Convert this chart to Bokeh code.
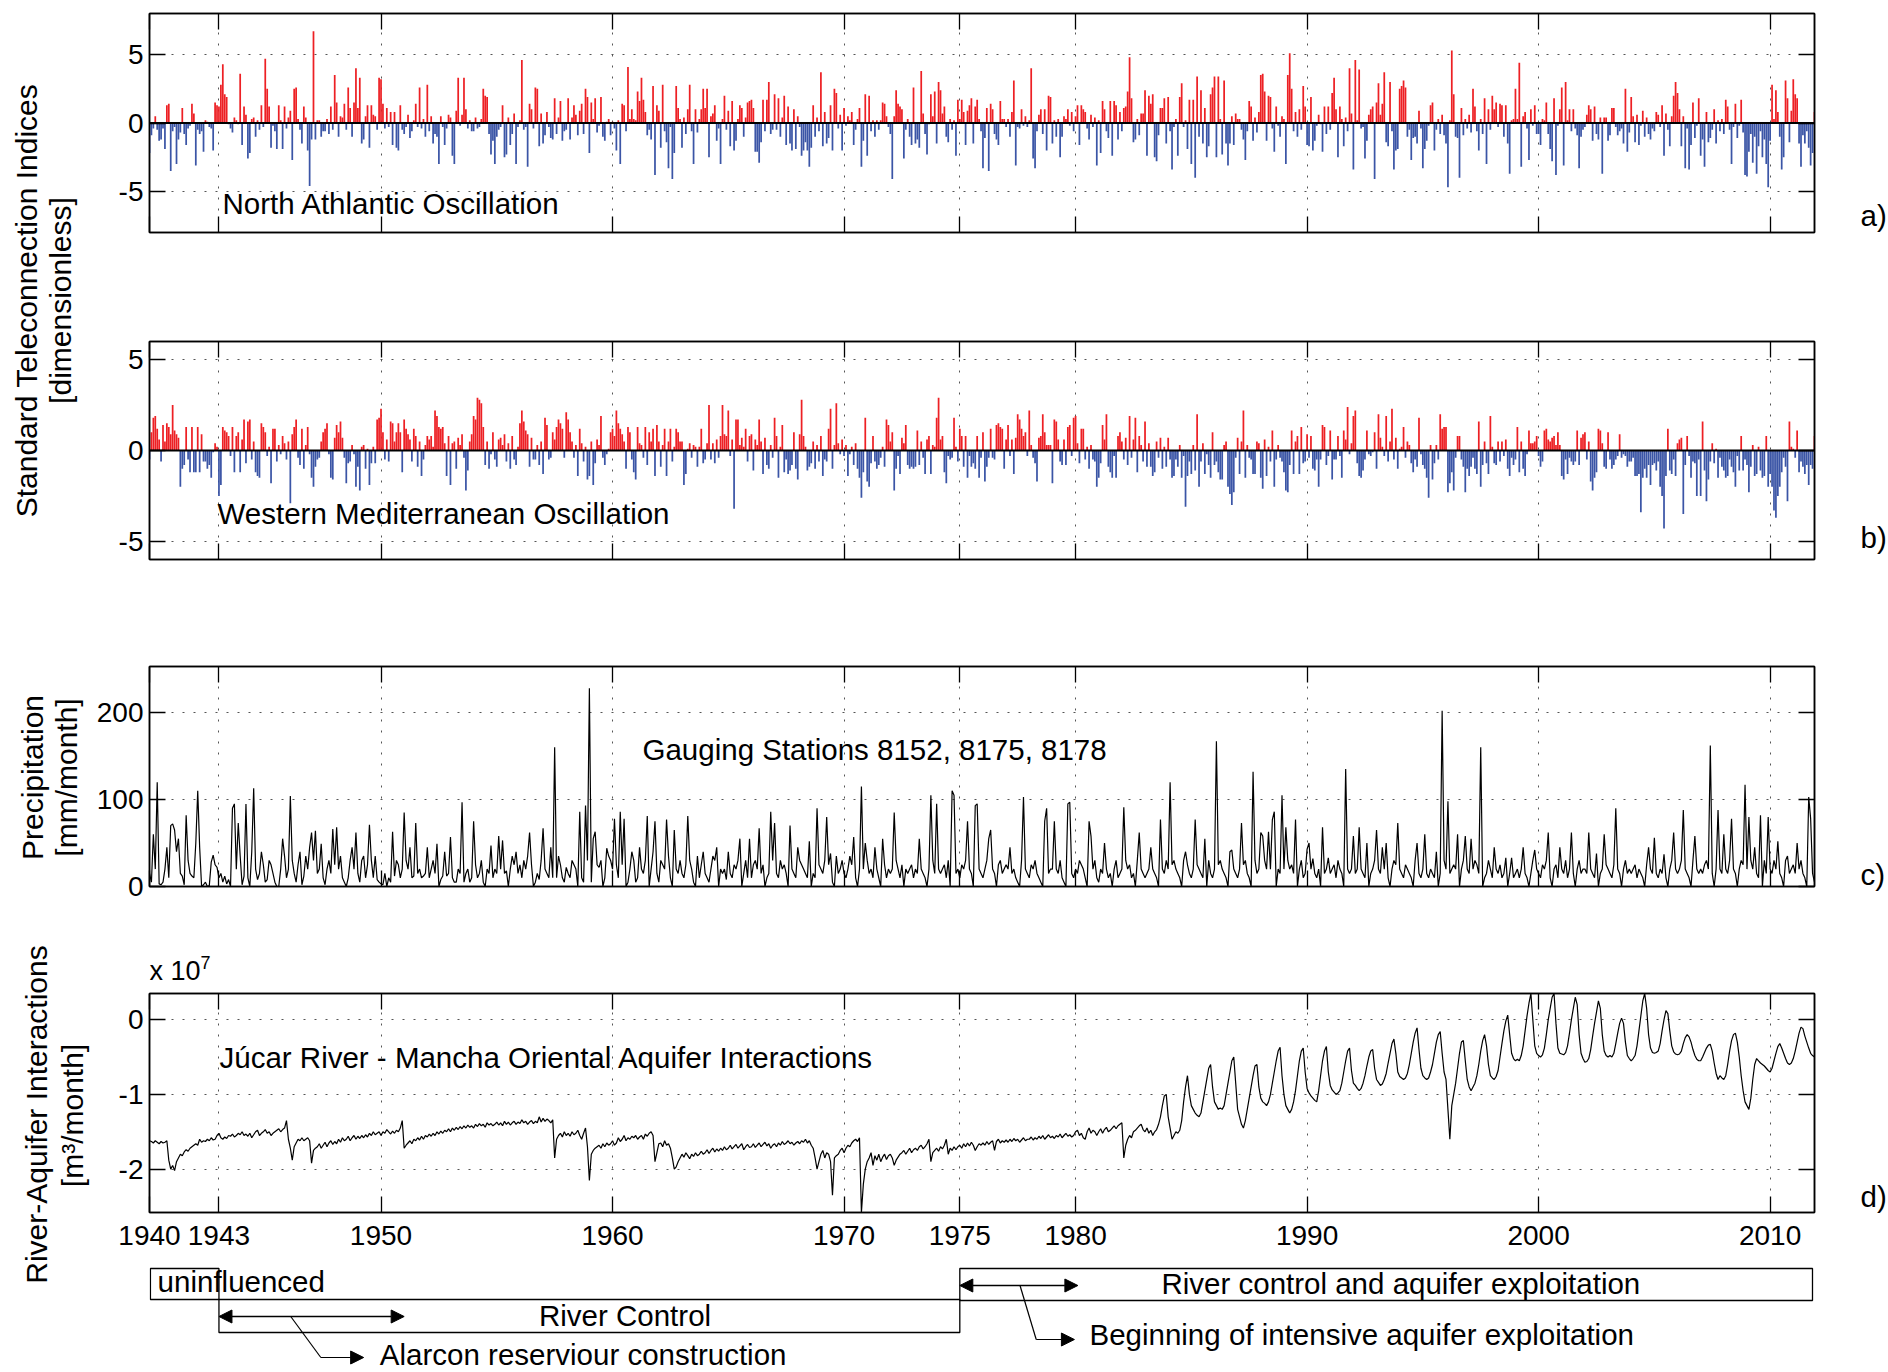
import math
import numpy as np
from bokeh.plotting import figure
from bokeh.models import (Range1d, LinearAxis, FixedTicker, Span, Label, Arrow,
                          NormalHead, ColumnDataSource, CustomJSTickFormatter)
from bokeh.layouts import row, column
from bokeh.embed import file_html
from bokeh.resources import INLINE
from bokeh.core.properties import value

FONT = "Liberation Sans"
RED = "#ED2024"
BLUE = "#3B55A6"

# ---------------- data (monthly, Jan 1940 .. Dec 2011), one row per year ----------------
nao_rows = [
    [-2.2, -0.9, -0.4, 0.5, -0.5, -1.3, -1.2, -0.4, -1.9, 1.3, 1.4, -3.5],
    [-0.6, -0.3, -3.0, -1.2, -0.7, 1.1, -0.8, -1.6, -0.4, -0.2, 1.4, 0.7],
    [-3.1, -0.5, -0.8, -0.6, -2.1, 0.2, 0.1, -0.3, -0.4, -2.0, 1.5, 1.3],
    [1.2, 2.8, 4.3, 2.1, 1.9, -0.1, -0.4, -0.7, 0.4, 0.2, -0.1, 3.6],
    [-1.6, 1.2, 0.6, -2.6, -2.2, 0.3, 0.4, -1.0, 0.2, -0.5, 1.3, -0.3],
    [4.7, 2.5, 1.2, -1.8, -0.2, -0.6, -1.9, 1.3, 0.2, -1.9, 1.2, -0.4],
    [0.4, 0.9, -2.7, 2.5, 2.6, 0.3, -0.5, -1.5, 1.2, 0.4, -2.0, -4.6],
    [-1.2, 6.7, -1.2, 0.2, 0.2, -1.0, -0.6, -0.6, 0.3, -0.8, 1.2, -0.5],
    [3.5, 1.5, -1.0, 0.5, 0.4, 1.4, -0.5, 2.6, 1.1, -1.0, 1.5, 4.0],
    [1.1, 3.3, -1.5, -1.2, 0.5, 1.3, -1.8, 1.3, 0.6, 0.5, -0.5, 3.3],
    [3.2, 1.4, -0.4, 1.1, -0.3, 0.8, -1.6, 0.8, -1.8, -2.0, 1.3, -0.5],
    [-0.8, -0.3, 0.6, -1.1, -0.6, 0.2, 1.4, -0.3, 2.6, -0.4, 0.3, -1.0],
    [2.8, -0.6, 0.5, -1.5, -0.8, -1.0, -3.0, 0.5, -0.3, -1.6, -0.4, 0.6],
    [0.4, -2.4, -3.0, 0.9, 3.3, -0.2, 0.6, 3.3, 1.0, -0.4, 0.2, -0.6],
    [-0.6, 0.4, -0.4, -0.3, 0.3, 2.5, 2.0, 1.9, -0.8, -2.3, -1.3, -3.0],
    [-1.0, -0.5, -0.3, 1.3, -2.5, -2.3, 0.4, -1.6, -0.8, 0.7, -3.0, -0.3],
    [0.2, 4.6, -0.5, -0.3, -3.2, 1.4, 1.0, -0.4, 2.6, 2.5, -1.7, 0.7],
    [-1.5, -0.9, 0.8, -0.3, -1.1, -1.2, 1.8, -0.8, 0.4, 1.6, -1.3, -0.6],
    [-0.5, 1.8, -1.2, 0.4, 1.3, 0.6, -0.9, 0.9, 1.4, -0.8, 2.5, 1.9],
    [-2.2, 1.5, 0.3, 1.8, -0.7, -0.2, 1.9, -1.0, -1.3, 0.1, 0.3, -0.9],
    [0.1, -0.4, -2.0, 0.2, -3.0, 1.4, 1.3, -0.6, 4.1, 0.3, 1.0, 0.3],
    [0.2, 2.3, 1.6, 3.3, 1.7, 0.8, -0.9, -0.5, -1.2, 2.7, -3.8, 1.3],
    [0.9, -1.8, 2.8, -0.6, -1.4, -3.3, -0.3, -4.1, -2.2, 2.7, 1.1, 0.3],
    [-1.8, 0.4, -0.8, 1.0, 2.8, -0.6, -3.0, 1.0, -0.7, 0.3, 1.0, 2.5],
    [1.1, 2.5, -2.5, 0.5, 0.7, 1.3, -1.3, -0.4, -3.0, 0.3, 2.0, -0.5],
    [0.9, -1.7, 1.6, -2.0, -1.3, 0.3, 1.3, 1.1, -1.0, 0.4, 1.5, 1.6],
    [1.7, 1.1, -2.1, -2.1, -2.9, -1.4, 1.7, -0.6, 1.7, 3.0, -0.8, -0.5],
    [2.1, -0.5, 1.8, -1.0, 0.4, 2.0, -1.6, 1.2, -1.5, -2.0, 1.0, -1.9],
    [0.5, -0.3, -2.4, -2.0, -1.4, -2.0, -3.2, -1.8, 1.3, -1.0, 0.4, -0.6],
    [3.7, -1.7, 0.8, -1.5, -1.1, 1.3, -2.0, 2.5, 2.2, -0.4, 0.6, -2.0],
    [1.1, -0.2, 0.5, 0.2, 0.8, -1.6, -0.5, 0.3, 1.1, -3.2, -1.3, 2.1],
    [-2.4, 2.0, -0.6, 0.2, -1.0, 0.2, -0.5, 0.2, 1.5, 1.4, 0.5, -0.3],
    [-0.8, -4.1, 0.5, 2.4, 1.4, 1.2, 1.0, -2.6, -0.5, 0.3, -1.0, -1.6],
    [2.6, -1.5, -1.2, -1.8, 3.8, 0.7, -0.8, -2.3, -0.1, 2.1, 0.5, 2.3],
    [-1.5, 3.0, 2.4, 0.7, 1.2, -1.0, -1.4, 0.3, -0.5, 0.2, -2.4, 1.7],
    [0.3, 1.7, 0.8, -1.6, 0.9, 1.3, 1.8, -1.5, 1.2, 1.7, 0.3, -0.6],
    [-3.3, -1.1, 1.1, -3.5, 1.4, 1.0, -0.8, -1.2, -1.6, 1.6, 0.3, 0.3],
    [-0.3, 0.3, -1.0, 0.8, 3.1, -3.1, -0.3, -0.4, 1.0, -0.2, 0.5, -0.3],
    [0.2, 4.0, -2.6, -3.3, -0.6, 0.6, 1.0, -0.8, 1.0, -2.0, 2.0, 1.9],
    [-1.5, 0.2, -1.0, 0.3, -2.5, -1.0, 0.5, 0.3, 1.0, -0.2, 0.8, -0.6],
    [0.5, 1.3, -1.6, 1.3, 1.0, 0.8, -0.4, -1.2, 0.6, -0.3, 0.4, -3.1],
    [0.2, -2.2, 1.6, 1.0, -0.6, -1.1, 1.6, -2.4, 1.6, 1.3, -1.2, 0.8],
    [-0.6, 1.1, 1.2, 2.3, 4.8, 1.8, -1.4, -1.2, 0.3, -0.9, 0.7, 0.7],
    [2.4, -2.4, 2.0, 1.4, 2.1, -2.5, -2.8, -0.9, 1.1, 1.1, 1.8, -1.5],
    [1.9, -0.6, -3.4, -0.3, 0.3, -2.4, 1.9, 2.9, -0.3, 0.2, -1.9, 1.7],
    [-3.0, 1.7, -4.0, 3.4, -1.0, 2.4, -1.5, 1.1, -2.5, -1.7, 2.1, 2.6],
    [3.4, -2.5, 3.4, 0.3, -2.3, 3.1, -1.5, -3.1, -1.5, 0.5, -1.6, 0.7],
    [0.3, 0.3, -0.5, -1.2, -2.7, -0.6, 1.6, 1.2, -1.3, 0.4, -0.7, 0.8],
    [3.5, 3.6, 2.3, -1.3, 2.0, 1.9, -0.4, -2.1, 1.2, -0.2, -1.0, 0.5],
    [0.3, -3.0, 3.5, 5.1, 2.5, -0.6, 0.8, -1.0, 1.0, -0.5, 2.7, 1.2],
    [-1.6, -1.7, 1.9, -2.0, -1.3, -0.2, 0.6, -0.1, -2.1, 1.2, -0.8, 1.2],
    [-0.5, 2.2, 3.3, 1.0, -2.5, 1.2, 0.3, -1.7, 0.4, -0.6, 4.0, 0.7],
    [-3.4, 4.6, 0.2, 3.9, -0.4, -0.3, -2.6, -1.3, 0.6, 1.0, 1.2, -4.1],
    [1.5, 2.9, 0.6, 1.4, 3.7, -1.4, -1.7, 3.0, -0.6, -3.4, -2.0, -1.9],
    [2.5, 2.7, 3.1, 2.6, -1.0, -0.5, -2.7, -1.1, -1.0, -1.5, 0.9, -0.4],
    [-3.3, -1.9, -1.3, -0.2, 1.3, 1.5, -2.0, -0.5, 0.3, -0.8, 0.6, -0.9],
    [-1.5, -4.7, 0.2, 5.3, 2.1, -1.0, -1.1, -4.0, 1.1, -0.9, 0.3, -0.4],
    [0.6, -0.7, 2.5, 1.2, -0.6, -2.0, 0.3, -0.8, 1.8, -3.0, 1.0, -0.5],
    [2.0, 1.0, 1.5, -0.3, 1.4, 1.3, -1.0, 1.3, -1.5, -3.7, 0.2, 0.3],
    [2.5, 0.3, 4.4, -3.2, 0.5, 0.8, -0.4, -2.7, 1.0, -0.2, 1.3, -0.8],
    [-0.8, -1.6, 0.3, 0.2, 1.5, -0.8, -1.9, -2.8, 1.8, -3.8, -0.2, 1.0],
    [2.6, -3.1, 3.0, 0.2, 1.0, -0.6, 1.0, -0.4, -0.9, -3.3, -1.0, -0.5],
    [-0.3, 0.6, 1.3, 1.0, -1.3, 1.2, -0.8, -1.2, 0.4, -3.7, 0.4, 0.4],
    [-1.3, -0.9, 1.1, 1.1, -0.3, -0.9, -0.6, -0.4, -1.5, 2.5, -2.1, -0.7],
    [1.9, 0.5, -1.4, 0.6, -1.6, -0.2, 0.9, -1.0, 0.4, -0.8, -1.2, -0.4],
    [-0.6, 0.8, 0.6, -0.3, 1.3, -2.4, 0.7, -0.5, -1.7, 0.5, 2.0, 3.0],
    [2.2, 1.0, -1.7, 0.5, -3.3, -0.4, -3.4, -1.6, 1.5, -1.1, -0.2, 1.8],
    [-2.4, -1.2, -3.2, 0.8, -1.4, -1.1, -0.5, 1.0, -1.5, 0.2, -0.6, 0.3],
    [-0.8, 1.7, 1.2, -0.5, -3.0, -0.3, 1.4, -1.1, -0.2, 1.7, -0.7, -3.8],
    [-3.9, -2.1, -0.8, -2.9, -1.0, -3.7, -1.7, -0.6, -2.5, -1.2, -3.0, -4.7],
    [-1.3, 2.8, 0.3, 2.4, 0.8, -1.0, -3.4, -2.5, 3.1, 1.8, -1.4, 0.9],
    [3.2, 2.1, 1.8, -1.5, -3.2, -0.9, -1.5, -0.6, -1.8, -3.1, -2.2, 0.8],
]

wemo_rows = [
    [-0.5, 1.0, 1.8, 1.9, 1.2, 0.6, -0.6, 1.4, 0.5, 1.5, 1.3, 0.9],
    [2.5, 1.1, 0.9, 0.7, -2.0, -1.0, -0.8, 1.3, -0.5, -1.2, 1.3, -1.2],
    [-1.2, 1.3, -1.2, 0.9, -0.6, -0.6, -1.0, -0.8, -1.5, -0.1, 0.4, 0.2],
    [-2.5, -1.9, 1.3, 1.1, 1.0, 0.8, -0.3, 1.3, -1.2, 0.8, 1.0, -1.2],
    [0.6, 1.7, -0.7, 1.6, 1.7, -0.5, 0.5, -1.2, -1.4, -1.5, 1.5, 1.3],
    [1.0, -0.3, 0.2, -1.8, 1.2, 1.2, -0.6, 0.3, -0.2, 0.8, 0.4, -0.5],
    [0.5, -2.9, 0.9, 1.3, 1.7, -0.4, -0.8, 1.2, -1.0, 0.3, 1.3, -0.2],
    [-1.5, -2.0, -0.9, -0.5, -0.4, 0.5, 1.0, 1.2, 1.5, -0.2, -1.5, -1.6],
    [0.7, 1.4, 1.0, 1.6, 0.7, -0.4, -1.8, -0.7, -0.6, 0.3, -0.2, -2.0],
    [-0.9, -2.2, 0.2, 0.3, -1.0, 0.1, -1.9, -0.7, 0.2, -0.7, 1.7, 1.8],
    [2.3, 1.0, -0.5, 0.6, -0.6, 1.6, 1.5, 0.5, 1.0, 1.5, 1.0, -1.2],
    [1.7, 1.2, 0.9, 0.6, -0.6, 1.2, 0.8, -0.9, 0.5, -1.4, -0.5, 0.3],
    [0.8, 0.6, 0.8, 0.2, 2.2, 1.9, 1.3, 1.2, 1.3, 0.4, -1.4, 0.8],
    [-1.9, 0.4, 0.5, -1.0, 0.7, 0.3, 0.9, -0.4, -2.2, -1.1, 0.5, 0.9],
    [1.9, 1.7, 2.9, 2.8, 2.6, 1.3, -0.8, 0.5, -1.0, -0.2, 1.0, -0.5],
    [-0.9, 0.6, 0.7, 0.3, 0.9, -0.6, 0.4, -1.0, 0.8, -0.5, -0.8, 0.2],
    [1.5, 2.2, 1.6, 1.1, 0.9, -0.9, 0.7, -0.5, -0.5, 0.3, -0.8, 0.5],
    [-1.3, 1.8, 1.4, -0.5, -0.4, 1.0, 0.6, 1.3, 1.7, 1.5, 1.2, -0.4],
    [2.1, 1.7, 1.0, 0.5, -0.4, 0.3, -1.4, 1.2, 0.4, -0.6, 0.2, -1.6],
    [-1.4, 0.5, -1.9, -0.7, 0.6, 0.3, 1.9, -0.4, -0.8, -0.2, 0.1, 1.0],
    [1.2, 0.8, 2.2, 1.5, 1.2, 0.9, 0.5, -1.0, 1.3, 1.0, -0.5, -1.2],
    [-1.6, 1.3, 0.4, 0.3, -0.4, 1.3, -0.8, 1.0, 0.5, 1.2, -1.4, 1.4],
    [0.5, -0.9, 0.3, 1.2, -1.4, 0.5, 1.2, -0.6, 0.2, 1.2, 1.0, 0.5],
    [0.5, -1.9, -1.3, 0.1, 0.4, -0.4, 0.3, 0.2, -0.9, 0.2, 1.2, -0.7],
    [-0.5, 0.4, 2.5, -0.5, 0.4, -0.7, 0.6, -0.4, 0.8, 2.5, 0.9, 0.8],
    [2.2, -0.3, 0.6, -3.2, 1.7, 1.7, 0.3, 0.7, 0.2, 1.2, -0.6, 0.8],
    [0.9, -1.1, 0.6, 0.3, 1.7, 0.5, -1.3, 0.7, -0.8, -1.0, 0.3, -0.4],
    [1.8, 0.8, -1.5, 0.2, 1.4, -1.2, -0.5, -1.3, -1.1, -0.8, 1.0, -1.0],
    [-1.6, 0.9, 2.8, 0.8, 0.2, -1.1, -0.9, -0.7, 0.5, -1.0, 0.3, -0.6],
    [0.8, -1.4, -0.5, -0.6, 1.2, 2.3, -1.0, 0.3, 2.6, 0.4, -0.2, 0.6],
    [-0.3, 0.3, -1.4, -0.2, 0.2, -0.8, 0.4, -1.0, -1.5, -2.6, -1.2, 1.8],
    [-1.7, -2.0, -0.7, 0.8, -0.6, -1.0, -0.8, -0.4, 0.2, -0.9, 1.7, 1.4],
    [0.5, 1.0, -2.2, -1.0, -0.3, -1.3, 0.7, 0.4, 1.4, -0.8, -1.0, -0.9],
    [-1.0, -0.9, 1.1, -0.8, 0.5, -0.4, -1.3, 0.6, 0.8, -1.3, 0.3, 0.2],
    [1.8, 2.9, 0.6, 0.8, -1.2, -1.8, -0.3, -0.5, -0.4, 1.8, 0.2, -0.6],
    [1.2, 0.8, -0.9, 0.8, -1.5, -0.3, -0.9, -0.7, -1.0, 0.8, -1.5, -0.4],
    [1.0, -1.7, -0.9, -0.4, 1.2, -0.4, -0.5, 1.4, 1.5, 1.3, 1.2, -1.0],
    [0.6, 1.4, -0.3, 0.6, -1.3, 0.7, 2.0, 1.7, 1.2, 0.8, 1.0, -0.3],
    [2.2, 0.3, -0.4, -0.7, -1.7, 0.7, 0.8, 2.0, 1.0, 0.3, 0.3, 0.3],
    [-1.8, 1.7, 1.6, 0.6, -0.6, -0.8, 0.6, -0.8, 1.3, 1.4, -0.3, 1.8],
    [1.9, 0.4, -0.7, 1.2, 1.2, -0.5, 0.2, -1.0, 0.3, -0.5, -0.6, -2.0],
    [-1.5, -0.7, 1.4, 0.6, 2.0, -0.9, -1.2, -1.5, -0.3, -1.5, 0.8, 1.0],
    [0.5, -0.5, 0.7, -0.8, 1.9, -0.4, 0.6, 1.8, -1.2, 0.8, 0.3, -0.6],
    [1.6, -0.9, 0.4, -0.9, -1.4, -1.2, 0.5, -0.4, 0.7, -1.0, 0.2, -0.9],
    [0.7, -0.5, -1.5, -1.4, -0.5, -0.9, 0.3, -1.5, -0.3, -3.1, -1.4, -0.6],
    [-1.3, 0.3, -1.1, 2.0, -2.0, -0.6, 0.4, -1.3, -0.2, -0.8, -1.5, 1.0],
    [-0.8, -0.6, -1.2, -1.6, -1.6, 0.3, 0.5, -2.0, -2.4, -3.0, -2.3, -0.4],
    [0.7, -1.3, 0.5, 2.2, -1.5, 0.3, -0.4, -0.5, -1.3, -1.3, 0.5, 0.4],
    [-1.5, -2.1, 0.6, -1.4, 0.2, -0.6, 1.1, -2.0, -0.5, 0.3, -0.4, -0.6],
    [-1.2, -2.2, -2.3, -0.8, 1.1, -1.3, 0.5, 0.8, -1.3, 1.3, -0.7, -0.6],
    [0.9, -0.4, 0.8, -1.0, -1.1, -0.5, -2.0, -0.5, 1.4, 1.3, -0.8, -0.3],
    [1.1, -1.6, -0.5, -0.5, 0.8, -0.3, -1.5, 1.1, 0.6, 2.4, -0.2, 0.4],
    [1.9, 2.2, -0.7, -1.4, -1.5, -1.1, -0.5, 1.1, -0.2, -0.3, -0.1, 1.0],
    [-1.0, 2.0, 0.7, 0.2, -0.3, 1.9, -0.6, 0.5, 2.3, -0.5, 0.7, -1.0],
    [0.1, 0.2, 1.3, -0.4, 0.5, 0.3, -0.7, -1.2, -0.5, -0.9, 1.8, -0.2],
    [-0.8, -1.0, -1.5, -2.6, 0.3, -1.6, -0.7, 0.3, -0.5, 2.0, 1.2, 1.3],
    [1.3, -2.3, -1.8, -1.2, -2.2, -0.4, 0.8, 0.8, -0.5, -0.9, -2.3, -1.0],
    [-1.4, -0.9, -0.4, -1.0, -1.3, 1.6, -2.0, -0.8, 0.5, -0.7, -1.3, 1.9],
    [0.2, -0.7, -0.8, 0.5, -0.6, 0.5, -0.3, 0.6, -1.0, -1.4, -0.4, -0.8],
    [-0.5, 1.3, -1.2, 0.5, -1.0, -1.4, -0.2, 1.1, 0.4, 0.4, 0.5, 0.8],
    [-0.3, -0.9, -0.6, 1.1, 1.2, 0.6, 0.5, 0.7, 0.8, 0.3, 1.0, 0.3],
    [-1.4, -1.6, -0.5, -1.3, -0.4, -0.6, -0.8, -0.6, 1.1, -0.8, 0.7, 0.9],
    [1.0, -0.5, 0.5, -1.7, -2.2, -1.5, -1.2, 1.2, 1.1, 0.4, -0.9, -1.0],
    [1.0, -0.5, -1.0, -0.8, -0.5, -0.3, 0.9, -0.4, -0.2, -0.3, -0.9, -0.6],
    [-0.6, -0.4, -1.4, -1.4, -1.3, -3.4, -1.5, -1.0, -1.5, -0.8, -1.9, -0.8],
    [-0.7, -1.1, -0.6, -2.0, -2.5, -4.3, -1.4, 1.2, -1.1, -1.3, -0.5, -1.4],
    [0.4, 0.6, 0.7, -3.5, -0.8, 0.8, -0.3, -1.5, -0.6, -0.7, -2.5, -0.5],
    [-2.5, 1.6, -1.1, -2.8, -1.6, -0.6, 0.4, -0.7, 0.1, -1.5, -0.4, -0.9],
    [-1.1, -1.5, -1.4, -0.5, -0.9, -1.2, -2.0, -0.3, -1.1, 0.8, -1.1, -0.5],
    [-0.8, -2.3, -0.9, 0.3, -1.4, -1.3, 0.2, -1.1, -1.5, -1.4, 0.8, -2.0],
    [-1.3, -2.0, -3.3, -3.7, -2.5, -2.0, -1.2, -0.4, -0.9, -2.8, 1.6, 0.2],
    [0.1, -0.4, 1.1, -1.2, -0.6, -0.9, -1.3, -0.8, -1.9, -0.8, -1.0, 0.8],
]

precip_rows = [
    [15, 5, 60, 20, 120, 3, 2, 5, 20, 45, 10, 70],
    [72, 65, 40, 55, 15, 12, 2, 82, 30, 15, 12, 10],
    [50, 110, 45, 0, 2, 5, 0, 1, 28, 36, 25, 22],
    [10, 15, 5, 12, 3, 8, 0, 90, 95, 20, 73, 35],
    [2, 12, 95, 10, 0, 40, 113, 20, 8, 15, 40, 25],
    [5, 8, 30, 25, 15, 5, 0, 0, 20, 55, 35, 10],
    [20, 104, 30, 15, 5, 25, 40, 2, 12, 35, 20, 45],
    [62, 30, 64, 15, 20, 49, 10, 2, 20, 30, 15, 66],
    [25, 68, 20, 35, 10, 5, 0, 10, 30, 45, 20, 62],
    [15, 5, 30, 35, 10, 25, 71, 30, 10, 35, 8, 5],
    [3, 2, 15, 0, 10, 5, 63, 12, 30, 25, 10, 20],
    [85, 30, 20, 45, 10, 12, 73, 15, 20, 10, 12, 15],
    [45, 10, 20, 30, 15, 49, 0, 8, 12, 40, 12, 15],
    [57, 10, 5, 5, 20, 15, 97, 5, 15, 20, 5, 10],
    [75, 25, 10, 15, 30, 5, 0, 20, 15, 47, 10, 20],
    [15, 58, 20, 53, 15, 18, 0, 20, 35, 25, 40, 15],
    [25, 10, 30, 20, 35, 62, 25, 0, 5, 15, 8, 30],
    [67, 20, 15, 10, 45, 10, 160, 10, 35, 25, 10, 5],
    [22, 15, 10, 30, 25, 20, 0, 86, 10, 5, 93, 30],
    [228, 5, 55, 63, 25, 22, 30, 0, 10, 44, 35, 30],
    [20, 78, 25, 10, 86, 25, 78, 0, 5, 20, 40, 30],
    [5, 10, 45, 20, 15, 30, 81, 0, 20, 40, 75, 15],
    [5, 30, 25, 20, 77, 35, 10, 0, 65, 20, 15, 30],
    [15, 10, 25, 81, 30, 20, 5, 0, 35, 10, 25, 40],
    [15, 10, 5, 20, 35, 30, 45, 0, 20, 15, 20, 8],
    [40, 15, 10, 25, 20, 30, 55, 0, 15, 30, 10, 55],
    [10, 25, 30, 20, 67, 15, 25, 0, 10, 15, 86, 30],
    [73, 15, 10, 30, 20, 25, 15, 0, 70, 20, 15, 10],
    [45, 30, 25, 20, 15, 10, 52, 0, 15, 10, 90, 25],
    [20, 15, 30, 80, 25, 38, 5, 0, 35, 15, 20, 30],
    [15, 10, 20, 35, 25, 57, 10, 0, 20, 115, 20, 50],
    [30, 15, 20, 10, 45, 20, 10, 0, 55, 25, 10, 20],
    [15, 20, 85, 30, 20, 10, 25, 0, 20, 15, 20, 25],
    [10, 20, 15, 55, 20, 15, 10, 0, 20, 105, 30, 15],
    [95, 20, 15, 20, 25, 10, 30, 0, 110, 105, 15, 20],
    [10, 25, 20, 30, 75, 20, 15, 0, 93, 95, 20, 15],
    [10, 20, 30, 55, 65, 20, 15, 0, 25, 30, 15, 20],
    [25, 20, 45, 15, 20, 10, 5, 0, 30, 103, 20, 15],
    [10, 25, 20, 30, 15, 10, 5, 0, 75, 90, 15, 20],
    [20, 75, 20, 15, 30, 10, 5, 0, 95, 97, 15, 10],
    [20, 15, 30, 25, 20, 10, 0, 75, 58, 20, 30, 10],
    [5, 20, 15, 50, 20, 10, 15, 0, 20, 30, 10, 15],
    [20, 91, 30, 20, 25, 10, 15, 0, 30, 62, 20, 15],
    [10, 15, 20, 45, 20, 15, 10, 0, 77, 20, 15, 30],
    [20, 120, 25, 30, 20, 15, 10, 0, 30, 40, 25, 15],
    [10, 20, 77, 25, 20, 15, 10, 55, 0, 30, 15, 10],
    [20, 167, 25, 30, 20, 15, 10, 0, 40, 42, 20, 15],
    [10, 20, 73, 25, 30, 15, 10, 0, 132, 30, 15, 20],
    [62, 58, 30, 20, 63, 20, 77, 86, 0, 20, 15, 105],
    [20, 68, 30, 20, 25, 15, 77, 0, 20, 30, 10, 15],
    [43, 50, 20, 32, 15, 10, 20, 0, 68, 15, 20, 33],
    [15, 20, 25, 10, 30, 20, 15, 0, 135, 20, 15, 20],
    [58, 15, 20, 68, 20, 15, 10, 50, 0, 15, 20, 30],
    [65, 20, 15, 45, 20, 50, 10, 0, 20, 30, 25, 73],
    [20, 15, 10, 25, 20, 15, 10, 0, 30, 50, 15, 10],
    [20, 60, 15, 10, 20, 15, 10, 40, 0, 15, 202, 30],
    [20, 98, 15, 20, 25, 20, 60, 0, 20, 30, 58, 20],
    [15, 55, 20, 30, 25, 15, 160, 0, 10, 15, 30, 20],
    [10, 45, 20, 15, 25, 10, 15, 33, 0, 15, 33, 10],
    [15, 20, 10, 20, 45, 15, 10, 0, 15, 30, 42, 20],
    [15, 10, 25, 20, 30, 62, 10, 0, 20, 25, 10, 45],
    [20, 15, 30, 10, 20, 62, 15, 0, 20, 30, 15, 20],
    [20, 15, 62, 20, 15, 10, 38, 0, 15, 20, 60, 25],
    [20, 15, 10, 25, 90, 20, 15, 0, 20, 30, 15, 20],
    [15, 20, 25, 10, 20, 15, 10, 0, 25, 45, 20, 15],
    [56, 15, 10, 20, 15, 37, 10, 0, 20, 30, 62, 20],
    [15, 20, 30, 88, 20, 15, 10, 0, 30, 58, 20, 15],
    [20, 15, 25, 30, 20, 162, 15, 0, 20, 88, 20, 15],
    [60, 20, 15, 30, 78, 20, 15, 0, 20, 30, 25, 117],
    [20, 80, 30, 20, 45, 15, 10, 82, 0, 30, 15, 80],
    [20, 15, 30, 20, 52, 15, 10, 0, 30, 35, 15, 20],
    [25, 15, 50, 20, 30, 15, 10, 0, 103, 78, 15, 5],
]

# river-aquifer interaction, in units of 1e7 m3/month
river_rows = [
    [-1.62, -1.63, -1.65, -1.62, -1.64, -1.66, -1.63, -1.65, -1.64, -1.62, -1.88, -2.0],
    [-1.95, -2.02, -1.9, -1.85, -1.8, -1.82, -1.77, -1.74, -1.76, -1.72, -1.7, -1.68],
    [-1.66, -1.68, -1.6, -1.64, -1.62, -1.63, -1.6, -1.62, -1.58, -1.61, -1.6, -1.55],
    [-1.52, -1.58, -1.6, -1.57, -1.59, -1.55, -1.56, -1.53, -1.57, -1.55, -1.52, -1.54],
    [-1.5, -1.55, -1.53, -1.56, -1.52, -1.58, -1.54, -1.5, -1.48, -1.55, -1.52, -1.5],
    [-1.47, -1.52, -1.5, -1.55, -1.52, -1.5, -1.48, -1.46, -1.5, -1.47, -1.45, -1.35],
    [-1.6, -1.72, -1.88, -1.7, -1.65, -1.6, -1.62, -1.58, -1.62, -1.6, -1.58, -1.62],
    [-1.92, -1.75, -1.72, -1.7, -1.66, -1.72, -1.68, -1.64, -1.7, -1.65, -1.62, -1.67],
    [-1.63, -1.66, -1.6, -1.64, -1.58, -1.62, -1.6, -1.56, -1.62, -1.58, -1.55, -1.6],
    [-1.56, -1.59, -1.55, -1.58, -1.54, -1.57, -1.52, -1.55, -1.5, -1.54, -1.52, -1.5],
    [-1.55, -1.5, -1.52, -1.47, -1.5, -1.53, -1.49, -1.52, -1.48, -1.5, -1.45, -1.35],
    [-1.72, -1.68, -1.65, -1.62, -1.66, -1.6, -1.62, -1.58, -1.61, -1.56, -1.6, -1.55],
    [-1.57, -1.53, -1.56, -1.52, -1.55, -1.5, -1.53, -1.49, -1.52, -1.48, -1.5, -1.46],
    [-1.5, -1.45, -1.48, -1.44, -1.47, -1.43, -1.46, -1.42, -1.45, -1.41, -1.44, -1.42],
    [-1.45, -1.4, -1.43, -1.39, -1.42, -1.4, -1.44, -1.38, -1.41, -1.39, -1.42, -1.4],
    [-1.37, -1.41, -1.38, -1.42, -1.36, -1.4, -1.37, -1.41, -1.38, -1.36, -1.4, -1.37],
    [-1.39, -1.34, -1.38, -1.36, -1.4, -1.37, -1.35, -1.39, -1.36, -1.38, -1.3, -1.37],
    [-1.32, -1.36, -1.33, -1.35, -1.38, -1.34, -1.85, -1.6, -1.55, -1.52, -1.57, -1.5],
    [-1.55, -1.52, -1.56, -1.5, -1.54, -1.52, -1.48, -1.55, -1.6, -1.52, -1.45, -1.7],
    [-2.15, -1.8, -1.75, -1.72, -1.7, -1.68, -1.72, -1.66, -1.7, -1.65, -1.68, -1.66],
    [-1.62, -1.68, -1.65, -1.58, -1.63, -1.6, -1.55, -1.62, -1.58, -1.6, -1.56, -1.58],
    [-1.55, -1.6, -1.57, -1.55, -1.6, -1.53, -1.56, -1.52, -1.5, -1.55, -1.9, -1.78],
    [-1.66, -1.65, -1.7, -1.62, -1.68, -1.66, -1.72, -1.85, -2.0, -1.97, -1.9, -1.85],
    [-1.8, -1.84, -1.78, -1.82, -1.86, -1.8, -1.83, -1.78, -1.82, -1.8, -1.76, -1.8],
    [-1.78, -1.74, -1.79, -1.75, -1.72, -1.77, -1.73, -1.76, -1.72, -1.75, -1.7, -1.74],
    [-1.72, -1.68, -1.73, -1.7, -1.67, -1.72, -1.69, -1.66, -1.74, -1.7, -1.67, -1.71],
    [-1.7, -1.66, -1.71, -1.68, -1.65, -1.7, -1.67, -1.64, -1.69, -1.66, -1.72, -1.68],
    [-1.66, -1.7, -1.65, -1.68, -1.63, -1.67, -1.65, -1.62, -1.66, -1.64, -1.68, -1.65],
    [-1.63, -1.66, -1.62, -1.64, -1.6, -1.65, -1.62, -1.68, -1.72, -1.85, -2.0, -1.9],
    [-1.8, -1.75, -1.85, -1.78, -1.8, -1.9, -2.35, -1.85, -1.82, -1.8, -1.75, -1.72],
    [-1.78, -1.72, -1.68, -1.7, -1.65, -1.62, -1.6, -1.63, -1.58, -2.58, -2.2, -2.0],
    [-1.9, -1.85, -1.78, -1.95, -1.82, -1.88, -1.8, -1.9, -1.84, -1.8, -1.87, -1.82],
    [-1.8, -1.85, -1.95, -1.88, -1.84, -1.8, -1.78, -1.75, -1.8, -1.76, -1.72, -1.78],
    [-1.74, -1.72, -1.75, -1.7, -1.68, -1.73, -1.7, -1.66, -1.6, -1.9, -1.78, -1.75],
    [-1.72, -1.76, -1.7, -1.73, -1.68, -1.6, -1.8, -1.72, -1.75, -1.7, -1.74, -1.7],
    [-1.68, -1.72, -1.66, -1.7, -1.65, -1.69, -1.64, -1.68, -1.75, -1.7, -1.66, -1.68],
    [-1.65, -1.68, -1.63, -1.67, -1.64, -1.62, -1.75, -1.63, -1.6, -1.65, -1.62, -1.64],
    [-1.61, -1.64, -1.6, -1.63, -1.59, -1.62, -1.6, -1.64, -1.61, -1.58, -1.62, -1.6],
    [-1.6, -1.57, -1.61, -1.58, -1.6, -1.56, -1.59, -1.55, -1.6, -1.57, -1.54, -1.58],
    [-1.56, -1.59, -1.55, -1.57, -1.53, -1.58, -1.55, -1.52, -1.56, -1.54, -1.57, -1.55],
    [-1.5, -1.48, -1.55, -1.52, -1.58, -1.6, -1.5, -1.45, -1.52, -1.48, -1.5, -1.55],
    [-1.5, -1.46, -1.52, -1.47, -1.44, -1.5, -1.48, -1.45, -1.42, -1.46, -1.42, -1.4],
    [-1.38, -1.85, -1.68, -1.6, -1.55, -1.58, -1.5, -1.48, -1.45, -1.42, -1.4, -1.47],
    [-1.5, -1.45, -1.52, -1.48, -1.55, -1.5, -1.47, -1.4, -1.3, -1.15, -1.02, -1.0],
    [-1.3, -1.45, -1.6, -1.55, -1.5, -1.52, -1.48, -1.35, -1.1, -0.9, -0.75, -1.0],
    [-1.15, -1.2, -1.25, -1.28, -1.3, -1.25, -1.1, -0.95, -0.8, -0.65, -0.6, -0.9],
    [-1.1, -1.15, -1.2, -1.18, -1.2, -1.15, -1.0, -0.85, -0.7, -0.55, -0.5, -0.85],
    [-1.2, -1.3, -1.4, -1.45, -1.35, -1.2, -1.05, -0.9, -0.75, -0.62, -0.6, -0.9],
    [-1.05, -1.1, -1.12, -1.15, -1.1, -1.0, -0.85, -0.7, -0.55, -0.42, -0.37, -0.75],
    [-1.0, -1.15, -1.2, -1.25, -1.2, -1.1, -0.95, -0.75, -0.55, -0.42, -0.38, -0.7],
    [-0.92, -0.98, -1.02, -1.05, -1.08, -1.1, -0.95, -0.75, -0.55, -0.42, -0.36, -0.7],
    [-0.88, -0.94, -0.97, -1.0, -0.98, -0.95, -0.85, -0.7, -0.55, -0.42, -0.38, -0.68],
    [-0.85, -0.88, -0.92, -0.95, -0.92, -0.85, -0.75, -0.62, -0.5, -0.42, -0.4, -0.65],
    [-0.8, -0.84, -0.88, -0.86, -0.8, -0.72, -0.58, -0.45, -0.32, -0.26, -0.45, -0.7],
    [-0.76, -0.78, -0.8, -0.78, -0.72, -0.6, -0.45, -0.3, -0.18, -0.11, -0.4, -0.65],
    [-0.75, -0.78, -0.8, -0.78, -0.7, -0.6, -0.45, -0.3, -0.2, -0.16, -0.45, -0.7],
    [-0.8, -1.2, -1.6, -1.15, -1.0, -0.85, -0.65, -0.45, -0.3, -0.28, -0.55, -0.8],
    [-0.9, -0.95, -0.9, -0.85, -0.75, -0.6, -0.42, -0.28, -0.2, -0.35, -0.6, -0.75],
    [-0.78, -0.8, -0.76, -0.68, -0.5, -0.32, -0.15, -0.02, 0.06, -0.2, -0.45, -0.52],
    [-0.55, -0.53, -0.55, -0.48, -0.35, -0.15, 0.05, 0.22, 0.35, 0.0, -0.35, -0.45],
    [-0.48, -0.5, -0.47, -0.38, -0.2, 0.0, 0.15, 0.3, 0.35, -0.05, -0.38, -0.45],
    [-0.46, -0.47, -0.44, -0.35, -0.18, 0.0, 0.15, 0.3, 0.2, -0.2, -0.45, -0.52],
    [-0.57, -0.56, -0.52, -0.4, -0.22, -0.05, 0.1, 0.25, 0.15, -0.2, -0.42, -0.48],
    [-0.5, -0.48, -0.5, -0.45, -0.32, -0.18, -0.05, 0.02, -0.05, -0.3, -0.48, -0.52],
    [-0.55, -0.52, -0.48, -0.35, -0.15, 0.05, 0.25, 0.35, 0.15, -0.2, -0.38, -0.44],
    [-0.45, -0.44, -0.42, -0.32, -0.15, 0.0, 0.12, 0.08, -0.15, -0.35, -0.43, -0.46],
    [-0.47, -0.46, -0.42, -0.32, -0.24, -0.2, -0.23, -0.3, -0.4, -0.48, -0.53, -0.55],
    [-0.55, -0.5, -0.44, -0.38, -0.34, -0.33, -0.42, -0.58, -0.72, -0.8, -0.75, -0.78],
    [-0.8, -0.75, -0.6, -0.42, -0.28, -0.2, -0.18, -0.3, -0.5, -0.75, -0.95, -1.1],
    [-1.15, -1.2, -1.05, -0.8, -0.6, -0.52, -0.55, -0.58, -0.6, -0.62, -0.65, -0.68],
    [-0.7, -0.65, -0.55, -0.45, -0.36, -0.32, -0.38, -0.45, -0.52, -0.58, -0.6, -0.58],
    [-0.52, -0.42, -0.3, -0.18, -0.1, -0.12, -0.22, -0.3, -0.38, -0.45, -0.48, -0.5],
]

x_ticks = [1940, 1943, 1950, 1960, 1970, 1975, 1980, 1990, 2000, 2010]
nao_ticks = [-5, 0, 5]
precip_ticks = [0, 100, 200]
river_ticks = [-2, -1, 0]

# periods and events shown under the time axis (years)
periods = [("uninfluenced", 1940.04, 1943.0), ("River Control", 1943.0, 1975.0),
           ("River control and aquifer exploitation", 1975.0, 2011.83)]
alarcon = (1943.0, 1951.0)          # Alarcon reservoir construction
intensive = (1975.0, 1980.1)        # beginning of intensive aquifer exploitation


def flat(rows, name):
    bad = [1940 + i for i, r in enumerate(rows) if len(r) != 12]
    if bad:
        raise ValueError(f"{name}: wrong row length for years {bad}")
    return [float(v) for r in rows for v in r]


nao = flat(nao_rows, "nao")
wemo = flat(wemo_rows, "wemo")
precip = flat(precip_rows, "precip")
river = flat(river_rows, "river")
N = len(nao)
t = 1940 + np.arange(N) / 12.0
X0, X1 = 1940.0, 1940.0 + (N - 1) / 12.0

# ---------------- layout constants (page pixels; the page has no margin) ----------------
TOT_H = 1372
LAB_W = 93          # left title strip: x 0..93
RLAB_W = 38         # right letter strip: x 1850..1888
COL_W = 1850 - LAB_W
FRAME_W = 1665
LEFT = 54           # frame starts at x = 147
RIGHT = COL_W - LEFT - FRAME_W
PPY = FRAME_W / (X1 - X0)


def yr(page_x):
    return X0 + (page_x - 147) / PPY


def style_axis(ax, labels=True, standoff=6):
    ax.major_tick_in = 16
    ax.major_tick_out = 0
    ax.minor_tick_line_color = None
    ax.major_tick_line_color = "black"
    ax.major_tick_line_width = 1.3
    ax.axis_line_color = "black"
    ax.axis_line_width = 1.5
    if labels:
        ax.formatter = CustomJSTickFormatter(code="return tick.toString()")
        ax.major_label_text_font = FONT
        ax.major_label_text_font_size = "28px"
        ax.major_label_text_color = "black"
        ax.major_label_standoff = standoff
    else:
        ax.formatter = CustomJSTickFormatter(code="return ''")
        ax.major_label_text_font_size = "0px"
        ax.major_label_standoff = 0


def panel(top, frame_h, bottom, y0, y1, yticks, xlabels):
    p = figure(frame_width=FRAME_W, frame_height=frame_h,
               min_border_left=LEFT, min_border_right=RIGHT,
               min_border_top=top, min_border_bottom=bottom,
               x_range=Range1d(X0, X1), y_range=Range1d(y0, y1),
               output_backend="svg", toolbar_location=None, tools="")
    p.outline_line_color = "black"
    p.outline_line_width = 1.5
    p.xaxis.ticker = FixedTicker(ticks=x_ticks)
    p.yaxis.ticker = FixedTicker(ticks=yticks)
    style_axis(p.xaxis[0], xlabels, standoff=13)
    style_axis(p.yaxis[0], True, standoff=6)
    p.xgrid.ticker = FixedTicker(ticks=x_ticks)
    p.ygrid.ticker = FixedTicker(ticks=yticks)
    p.grid.grid_line_color = "#555555"
    p.grid.grid_line_dash = "2 9"
    p.grid.grid_line_width = 1
    top_ax = LinearAxis(ticker=FixedTicker(ticks=x_ticks))
    style_axis(top_ax, False)
    p.add_layout(top_ax, "above")
    right_ax = LinearAxis(ticker=FixedTicker(ticks=yticks))
    style_axis(right_ax, False)
    p.add_layout(right_ax, "right")
    return p


def band(height):
    """Axis-less strip sharing the panels' horizontal frame (for texts under/over panels)."""
    p = figure(frame_width=FRAME_W, frame_height=height,
               min_border_left=LEFT, min_border_right=RIGHT,
               min_border_top=0, min_border_bottom=0,
               x_range=Range1d(X0, X1), y_range=Range1d(0, height),
               x_axis_location=None, y_axis_location=None,
               output_backend="svg", toolbar_location=None, tools="")
    p.grid.visible = False
    p.outline_line_color = None
    return p


def strip(width, height):
    p = figure(width=width, height=height, x_range=Range1d(0, width),
               y_range=Range1d(0, height), min_border=0,
               x_axis_location=None, y_axis_location=None,
               output_backend="svg", toolbar_location=None, tools="")
    p.grid.visible = False
    p.outline_line_color = None
    return p


def add_text(p, x, y, text, size="29.5px", align="left"):
    p.add_layout(Label(x=x, y=y, text=text, text_font=FONT, text_font_size=size,
                       text_baseline="middle", text_align=align, text_color="black"))


def bars(p, vals):
    src = ColumnDataSource(dict(x=t, top=vals,
                                color=[RED if v > 0 else BLUE for v in vals]))
    p.vbar(x="x", top="top", bottom=0, width=0.9 / 12, fill_color="color",
           line_color=None, source=src)
    p.add_layout(Span(location=0, dimension="width", line_color="black", line_width=1.8))


# a) NAO  (y 0..286, frame 13..232)
pa = panel(13, 219, 54, -8, 8, nao_ticks, False)
bars(pa, nao)
add_text(pa, yr(220), -5.9, "North Athlantic Oscillation")

# b) WeMO (y 286..612, frame 341..559)
pb = panel(55, 218, 53, -6, 6, nao_ticks, False)
bars(pb, wemo)
add_text(pb, yr(215), -3.45, "Western Mediterranean Oscillation")

# c) precipitation (y 612..940, frame 666..886)
pc = panel(54, 220, 54, 0, 253, precip_ticks, False)
pc.line(t, precip, line_color="black", line_width=1.2)
add_text(pc, yr(640), 158, "Gauging Stations 8152, 8175, 8178")

# header above d) with the axis multiplier (y 940..988)
HD_H = 48
ph = band(HD_H)
ph.text(x=[1940.0], y=[HD_H - 30], text=["x 10"], text_font=value(FONT),
        text_font_size="27px", text_baseline="middle", text_align="left", text_color="black")
ph.text(x=[yr(198)], y=[HD_H - 22], text=["7"], text_font=value(FONT),
        text_font_size="18px", text_baseline="middle", text_align="left", text_color="black")

# d) river-aquifer interactions (y 988..1260, frame 993..1212)
rmin, rmax = min(river), max(river)
pd_ = panel(5, 219, 48, rmin, rmax, river_ticks, True)
pd_.line(t, river, line_color="black", line_width=1.2)
add_text(pd_, yr(217), -0.51, "Júcar River - Mancha Oriental Aquifer Interactions")

# e) periods / events (y 1260..1372)
EH = 112
pe = band(EH)


def ly(v):
    return EH - v


box_rows = [(8, 39), (39, 72), (8, 40)]
pe.quad(left=[p_[1] for p_ in periods], right=[p_[2] for p_ in periods],
        top=[ly(a) for a, b in box_rows], bottom=[ly(b) for a, b in box_rows],
        fill_color=None, line_color="black", line_width=1.3)


def head():
    return NormalHead(size=13, fill_color="black", line_color="black")


pe.add_layout(Arrow(start=head(), end=head(), x_start=alarcon[0], y_start=ly(56),
                    x_end=alarcon[1], y_end=ly(56), line_width=1.5))
pe.add_layout(Arrow(start=head(), end=head(), x_start=intensive[0], y_start=ly(25),
                    x_end=intensive[1], y_end=ly(25), line_width=1.5))
pe.line([1946.1, 1947.4], [ly(56), ly(97)], line_color="black", line_width=1.2)
pe.add_layout(Arrow(end=head(), x_start=1947.4, y_start=ly(97), x_end=1949.25,
                    y_end=ly(97), line_width=1.2))
pe.line([1977.6, 1978.3], [ly(25), ly(79)], line_color="black", line_width=1.2)
pe.add_layout(Arrow(end=head(), x_start=1978.3, y_start=ly(79), x_end=1979.95,
                    y_end=ly(79), line_width=1.2))

pe.text(x=[1940.35, 1949.95, 1980.6], y=[ly(21), ly(94), ly(74)],
        text=["uninfluenced", "Alarcon reserviour construction",
              "Beginning of intensive aquifer exploitation"],
        text_font=value(FONT), text_font_size="29.5px", text_baseline="middle",
        text_align="left", text_color="black")
pe.text(x=[1960.54, 1994.05], y=[ly(55), ly(23)],
        text=[periods[1][0], periods[2][0]],
        text_font=value(FONT), text_font_size="29.5px", text_baseline="middle",
        text_align="center", text_color="black")

# y-axis titles (left strip, x 0..93); y = TOT_H - page_y
pl = strip(LAB_W, TOT_H)
pl.text(x=[26, 60, 32, 66, 36, 72],
        y=[TOT_H - 300, TOT_H - 300, TOT_H - 777, TOT_H - 777, TOT_H - 1114, TOT_H - 1115],
        text=["Standard Teleconnection Indices", "[dimensionless]",
              "Precipitation", "[mm/month]",
              "River-Aquifer Interactions", "[m³/month]"],
        angle=math.pi / 2, text_font=value(FONT), text_font_size="30px",
        text_align="center", text_baseline="middle", text_color="black")

# panel letters (right strip, x 1850..1888)
pr = strip(RLAB_W, TOT_H)
pr.text(x=[8, 8, 8, 8], y=[TOT_H - 215, TOT_H - 537, TOT_H - 874, TOT_H - 1196],
        text=["a)", "b)", "c)", "d)"], text_font=value(FONT), text_font_size="29.5px",
        text_align="left", text_baseline="middle", text_color="black")

layout = row(pl, column(pa, pb, pc, ph, pd_, pe), pr)
open("out.html", "w").write(file_html(layout, INLINE))
